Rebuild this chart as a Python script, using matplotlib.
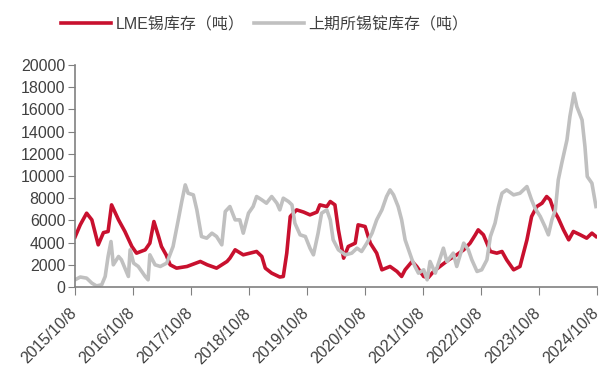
import numpy as np
import matplotlib
matplotlib.use('Agg')
import matplotlib.pyplot as plt
import matplotlib.transforms as mtransforms

plt.rcParams['font.family'] = ['Liberation Sans', 'Noto Sans CJK SC', 'DejaVu Sans']

# x = years after 2015/10/8
lme_t = [0.00, 0.09, 0.20, 0.29, 0.40, 0.49, 0.57, 0.63, 0.75, 0.86, 0.98, 1.06, 1.21, 1.29,
         1.36, 1.44, 1.49, 1.57, 1.64, 1.75, 1.93, 2.16, 2.28, 2.44, 2.62, 2.67, 2.76, 2.90,
         3.13, 3.22, 3.28, 3.39, 3.53, 3.59, 3.65, 3.71, 3.82, 3.94, 4.05, 4.17, 4.22, 4.34,
         4.40, 4.48, 4.54, 4.63, 4.71, 4.83, 4.88, 5.00, 5.09, 5.20, 5.29, 5.43, 5.55, 5.63,
         5.69, 5.81, 5.89, 6.01, 6.09, 6.18, 6.29, 6.44, 6.58, 6.70, 6.81, 6.90, 6.95, 7.04,
         7.10, 7.16, 7.27, 7.36, 7.44, 7.56, 7.67, 7.79, 7.87, 7.96, 8.05, 8.13, 8.19, 8.25,
         8.33, 8.42, 8.51, 8.59, 8.71, 8.82, 8.91, 8.98]
lme_v = [4500, 5600, 6650, 6050, 3800, 4900, 5000, 7400, 6050, 5000, 3650, 3050, 3350, 3950,
         5900, 4550, 3650, 2900, 2000, 1700, 1850, 2300, 2000, 1700, 2300, 2600, 3350, 2900,
         3200, 2750, 1700, 1250, 900, 950, 3050, 6350, 6950, 6750, 6500, 6750, 7400, 7250,
         7700, 7400, 5150, 2600, 3650, 3950, 5600, 5450, 3950, 3050, 1550, 1850, 1400, 950,
         1550, 2300, 1850, 950, 850, 1400, 1850, 2450, 2900, 3350, 3950, 4700, 5150, 4700,
         3950, 3200, 3050, 3200, 2450, 1550, 1850, 4250, 6350, 7250, 7550, 8150, 7850, 6950,
         6200, 5150, 4250, 5000, 4700, 4400, 4850, 4550]

shfe_t = [0.00, 0.09, 0.20, 0.29, 0.37, 0.46, 0.52, 0.57, 0.62, 0.66, 0.75, 0.80, 0.86, 0.92,
          0.95, 1.01, 1.09, 1.21, 1.26, 1.29, 1.38, 1.47, 1.58, 1.69, 1.78, 1.84, 1.90, 1.95,
          2.04, 2.10, 2.18, 2.27, 2.36, 2.44, 2.53, 2.59, 2.67, 2.76, 2.84, 2.90, 2.99, 3.07,
          3.13, 3.22, 3.30, 3.39, 3.48, 3.53, 3.59, 3.68, 3.74, 3.79, 3.88, 3.97, 4.05, 4.11,
          4.19, 4.25, 4.34, 4.40, 4.45, 4.54, 4.66, 4.77, 4.86, 4.94, 5.03, 5.12, 5.20, 5.29,
          5.37, 5.43, 5.49, 5.57, 5.63, 5.69, 5.75, 5.81, 5.86, 5.92, 6.01, 6.07, 6.12, 6.21,
          6.35, 6.41, 6.52, 6.58, 6.70, 6.78, 6.84, 6.93, 7.01, 7.10, 7.16, 7.24, 7.30, 7.36,
          7.44, 7.56, 7.67, 7.79, 7.87, 7.93, 8.02, 8.10, 8.16, 8.22, 8.28, 8.33, 8.39, 8.48,
          8.53, 8.60, 8.65, 8.74, 8.79, 8.83, 8.91, 8.98]
shfe_v = [650, 900, 800, 350, 100, 200, 950, 2750, 4100, 2000, 2750, 2450, 1700, 950,
          3350, 2150, 1850, 950, 650, 2900, 2000, 1850, 2150, 3650, 6050, 7700, 9200, 8450,
          8300, 6950, 4550, 4400, 4850, 4550, 3800, 6800, 7250, 6050, 6050, 4850, 6650, 7250,
          8150, 7850, 7550, 8150, 7550, 6950, 8000, 7700, 7400, 5750, 4700, 4550, 3500, 2900,
          4850, 6650, 6950, 6050, 4250, 3350, 2900, 3050, 3500, 3200, 3950, 4850, 6050, 6950,
          8150, 8750, 8300, 7250, 6050, 4250, 3350, 2450, 1850, 1250, 1550, 650, 2300, 1250,
          3500, 2300, 3050, 1850, 3950, 3350, 2450, 1400, 1550, 2450, 4550, 5750, 7250, 8450,
          8750, 8300, 8450, 9050, 7850, 7100, 6350, 5450, 4700, 6050, 6950, 9650, 11150, 13250,
          15350, 17450, 16250, 15050, 12650, 9950, 9350, 7250]

year_ticks = list(range(10))
tick_labels = ['%d/10/8' % (2015 + i) for i in year_ticks]

fig = plt.figure(figsize=(6.05, 3.74), dpi=100)
ax = fig.add_axes([0.124, 0.2326, 0.863, 0.5936])

ax.plot(lme_t, lme_v, color='#C8102E', lw=2.6, label='LME锡库存（吨）')
ax.plot(shfe_t, shfe_v, color='#C0C0C0', lw=2.6, label='上期所锡锭库存（吨）')

ax.set_xlim(0, 9)
ax.set_ylim(0, 20000)
ax.set_yticks(np.arange(0, 20001, 2000))
ax.set_xticks(year_ticks)
ax.set_xticklabels([])
off = mtransforms.ScaledTranslation(-1 / 100, -24 / 100, fig.dpi_scale_trans)
for x, lab in zip(year_ticks, tick_labels):
    ax.text(x, 0, lab, transform=ax.get_xaxis_transform() + off, rotation=45,
            ha='right', va='center', rotation_mode='anchor', fontsize=11.5,
            color='#404040', clip_on=False)

for s in ['top', 'right']:
    ax.spines[s].set_visible(False)
for s in ['left', 'bottom']:
    ax.spines[s].set_color('#808080')
    ax.spines[s].set_linewidth(1.2)
ax.tick_params(axis='both', colors='#808080', labelcolor='#404040', labelsize=11.5)
ax.tick_params(axis='y', length=5, pad=2)
ax.tick_params(axis='x', length=6)

fig.legend(loc='center', bbox_to_anchor=(0.438, 0.935), ncol=2, frameon=False,
           fontsize=11.5, handlelength=3.1, columnspacing=0.6, handletextpad=0.3,
           labelcolor='#404040')

fig.savefig('out.png', dpi=100)
